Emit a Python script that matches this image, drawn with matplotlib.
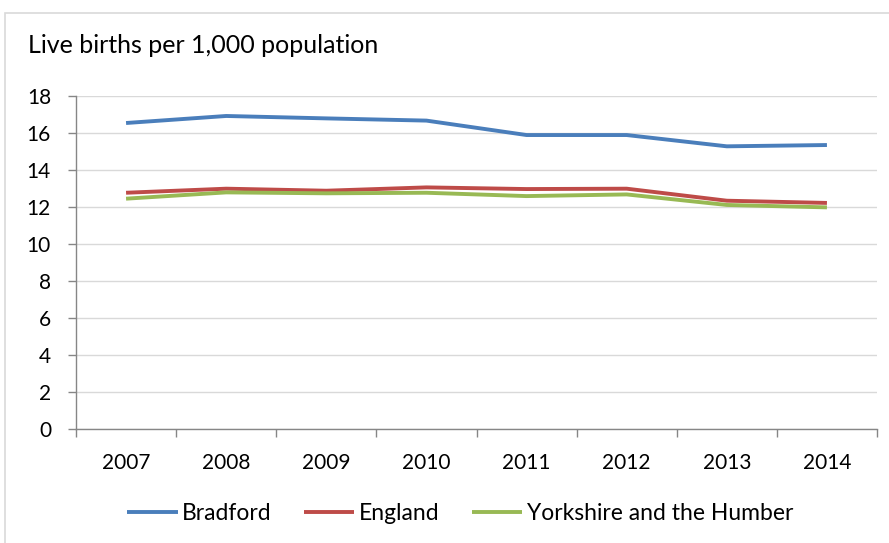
import matplotlib
matplotlib.use("Agg")
import matplotlib.pyplot as plt
from matplotlib.patches import Rectangle

years = ["2007", "2008", "2009", "2010", "2011", "2012", "2013", "2014"]
bradford = [16.54, 16.92, 16.79, 16.67, 15.89, 15.89, 15.28, 15.35]
england = [12.77, 12.99, 12.88, 13.06, 12.97, 12.99, 12.34, 12.22]
yorkshire = [12.45, 12.79, 12.74, 12.77, 12.59, 12.68, 12.11, 11.98]
series_names = ["Bradford", "England", "Yorkshire and the Humber"]
colors = ["#4A7EBB", "#BE4B48", "#98B954"]
yticks = [0, 2, 4, 6, 8, 10, 12, 14, 16, 18]

plt.rcParams['font.family'] = ['Lato', 'DejaVu Sans']

W, H = 889, 543
fig = plt.figure(figsize=(W / 100, H / 100), dpi=100)
fig.patch.set_facecolor("white")

# chart border
fig.patches.append(Rectangle((5 / W, -0.1), 1.2, (H - 13) / H + 0.1,
                             transform=fig.transFigure, fill=False,
                             edgecolor="#D9D9D9", linewidth=1.2))

ax = fig.add_axes([76 / W, (H - 429) / H, (877 - 76) / W, (429 - 96) / H])
x = list(range(len(years)))
for vals, name, c in zip([bradford, england, yorkshire], series_names, colors):
    ax.plot(x, vals, color=c, linewidth=2.8, label=name, solid_capstyle="butt")

ax.set_xlim(-0.5, len(years) - 0.5)
ax.set_ylim(0, 18)
ax.set_yticks(yticks)
ax.set_yticklabels([str(v) for v in yticks])
ax.yaxis.grid(True, color="#D9D9D9", linewidth=1.0)
ax.set_axisbelow(True)

ax.set_xticks([i + 0.5 for i in range(-1, len(years))], minor=False)
ax.set_xticklabels([""] * (len(years) + 1))
ax.set_xticks(x, minor=True)
ax.set_xticklabels(years, minor=True)
ax.tick_params(axis="x", which="major", direction="out", length=6, color="#868686", width=1)
ax.tick_params(axis="x", which="minor", length=0, pad=17, labelsize=15)
ax.tick_params(axis="y", direction="out", length=6, color="#868686", width=1,
               pad=12, labelsize=15)

for s in ["top", "right"]:
    ax.spines[s].set_visible(False)
for s in ["left", "bottom"]:
    ax.spines[s].set_color("#868686")
    ax.spines[s].set_linewidth(1.0)

fig.text(28 / W, (H - 53) / H, "Live births per 1,000 population",
         fontsize=18, ha="left", va="baseline")

fig.legend(loc="center", bbox_to_anchor=(460 / W, (H - 514) / H), ncol=3,
           frameon=False, fontsize=16.5, handlelength=2.2, handletextpad=0.2,
           columnspacing=1.4, borderaxespad=0)

fig.savefig("out.png", dpi=100, facecolor="white")
